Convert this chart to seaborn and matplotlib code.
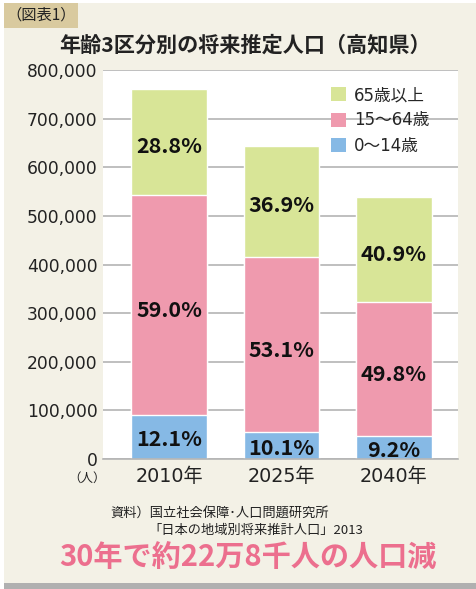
import numpy as np
import pandas as pd
import matplotlib
matplotlib.use('Agg')
import matplotlib.pyplot as plt
from matplotlib.patches import Rectangle, Patch
import seaborn as sns

# data (people)
years = ['2010年', '2025年', '2040年']
age_0_14 = [91000, 56000, 48000]
age_15_64 = [451000, 360000, 274000]
age_65_over = [218000, 228000, 217000]
pct_0_14 = ['12.1%', '10.1%', '9.2%']
pct_15_64 = ['59.0%', '53.1%', '49.8%']
pct_65_over = ['28.8%', '36.9%', '40.9%']
legend_labels = ['65歳以上', '15～64歳', '0～14歳']
yticks = [0, 100000, 200000, 300000, 400000, 500000, 600000, 700000, 800000]

GREEN = '#d8e597'
PINK = '#ef9aae'
BLUE = '#86b9e5'
BEIGE = '#f3f1e6'

sns.set_theme(style='white')
plt.rcParams['font.family'] = ['Noto Sans CJK JP', 'DejaVu Sans']
MIXED = ['DejaVu Sans', 'Noto Sans CJK JP']

W, H = 477, 589
fig = plt.figure(figsize=(W / 100, H / 100), dpi=100)
fig.patch.set_facecolor('white')


def fx(px):
    return px / W


def fy(py):
    return 1 - py / H


# background panel, shadow and tag box
fig.add_artist(Rectangle((fx(4), fy(589)), fx(473), 6 / H, transform=fig.transFigure,
                         facecolor='#b0b0b0', edgecolor='none', zorder=0))
fig.add_artist(Rectangle((fx(4), fy(583)), fx(473), 580 / H, transform=fig.transFigure,
                         facecolor=BEIGE, edgecolor='none', zorder=0))
fig.add_artist(Rectangle((fx(4), fy(28)), fx(74), 25 / H, transform=fig.transFigure,
                         facecolor='#d9ca9f', edgecolor='none', zorder=1))
fig.text(fx(41), fy(15.5), '（図表1）', ha='center', va='center', fontsize=11, color='#222222')

fig.text(fx(245), fy(45), '年齢3区分別の将来推定人口（高知県）', ha='center', va='center',
         fontsize=15.2, fontweight='bold', color='#222222')

ax = fig.add_axes([fx(103), fy(459), fx(355), 389 / H])
ax.set_facecolor('white')

df = pd.DataFrame({'year': years, 'a': age_0_14, 'b': age_15_64, 'c': age_65_over})
df['ab'] = df['a'] + df['b']
df['abc'] = df['ab'] + df['c']

bw = 0.675
sns.barplot(data=df, x='year', y='abc', color=GREEN, saturation=1, width=bw, ax=ax)
sns.barplot(data=df, x='year', y='ab', color=PINK, saturation=1, width=bw, ax=ax)
sns.barplot(data=df, x='year', y='a', color=BLUE, saturation=1, width=bw, ax=ax)

for i in range(len(years)):
    a, ab, abc = df.loc[i, 'a'], df.loc[i, 'ab'], df.loc[i, 'abc']
    for y, s in [(a / 2 - 6000, pct_0_14[i]), ((a + ab) / 2 - 12000, pct_15_64[i]),
                 ((ab + abc) / 2 - 9000, pct_65_over[i])]:
        ax.text(i, y, s, ha='center', va='center', fontsize=15.5, fontweight='bold',
                color='#111111')

ax.set_ylim(0, 800000)
ax.set_xlim(-0.587, 2.569)
ax.set_yticks(yticks)
ax.set_yticklabels([f'{v:,}' for v in yticks], family='DejaVu Sans')
ax.set_xticks(range(len(years)))
ax.set_xticklabels(years, family=MIXED)
ax.yaxis.grid(True, color='#b4b4b4', linewidth=1.2)
ax.set_axisbelow(True)
ax.tick_params(axis='y', labelsize=12.3, pad=4, length=0, labelcolor='#222222')
ax.tick_params(axis='x', labelsize=13.8, pad=6, length=0, labelcolor='#222222')
ax.set_xlabel('')
ax.set_ylabel('')
for side in ['left', 'right', 'top']:
    ax.spines[side].set_visible(False)
ax.spines['bottom'].set_color('#b4b4b4')
ax.spines['bottom'].set_linewidth(1.2)

handles = [Patch(facecolor=c, edgecolor='none') for c in [GREEN, PINK, BLUE]]
fig.legend(handles, legend_labels, loc='upper left', bbox_to_anchor=(fx(331), fy(86)),
           frameon=False, prop={'family': MIXED, 'size': 12}, handlelength=0.9,
           handleheight=0.9, handletextpad=0.5, labelspacing=0.45, borderpad=0,
           borderaxespad=0)

fig.text(fx(87), fy(478), '（人）', ha='center', va='center', fontsize=9, color='#222222')

fig.text(fx(110), fy(513), '資料）国立社会保障･人口問題研究所', ha='left', va='center',
         fontsize=9.5, color='#222222')
fig.text(fx(148), fy(530), '「日本の地域別将来推計人口」2013', ha='left', va='center',
         fontsize=9.5, color='#222222')
fig.text(fx(248), fy(557), '30年で約22万8千人の人口減', ha='center', va='center',
         fontsize=21, fontweight='bold', color='#ec6f8e')

fig.savefig('out.png', dpi=100, facecolor=fig.get_facecolor())
